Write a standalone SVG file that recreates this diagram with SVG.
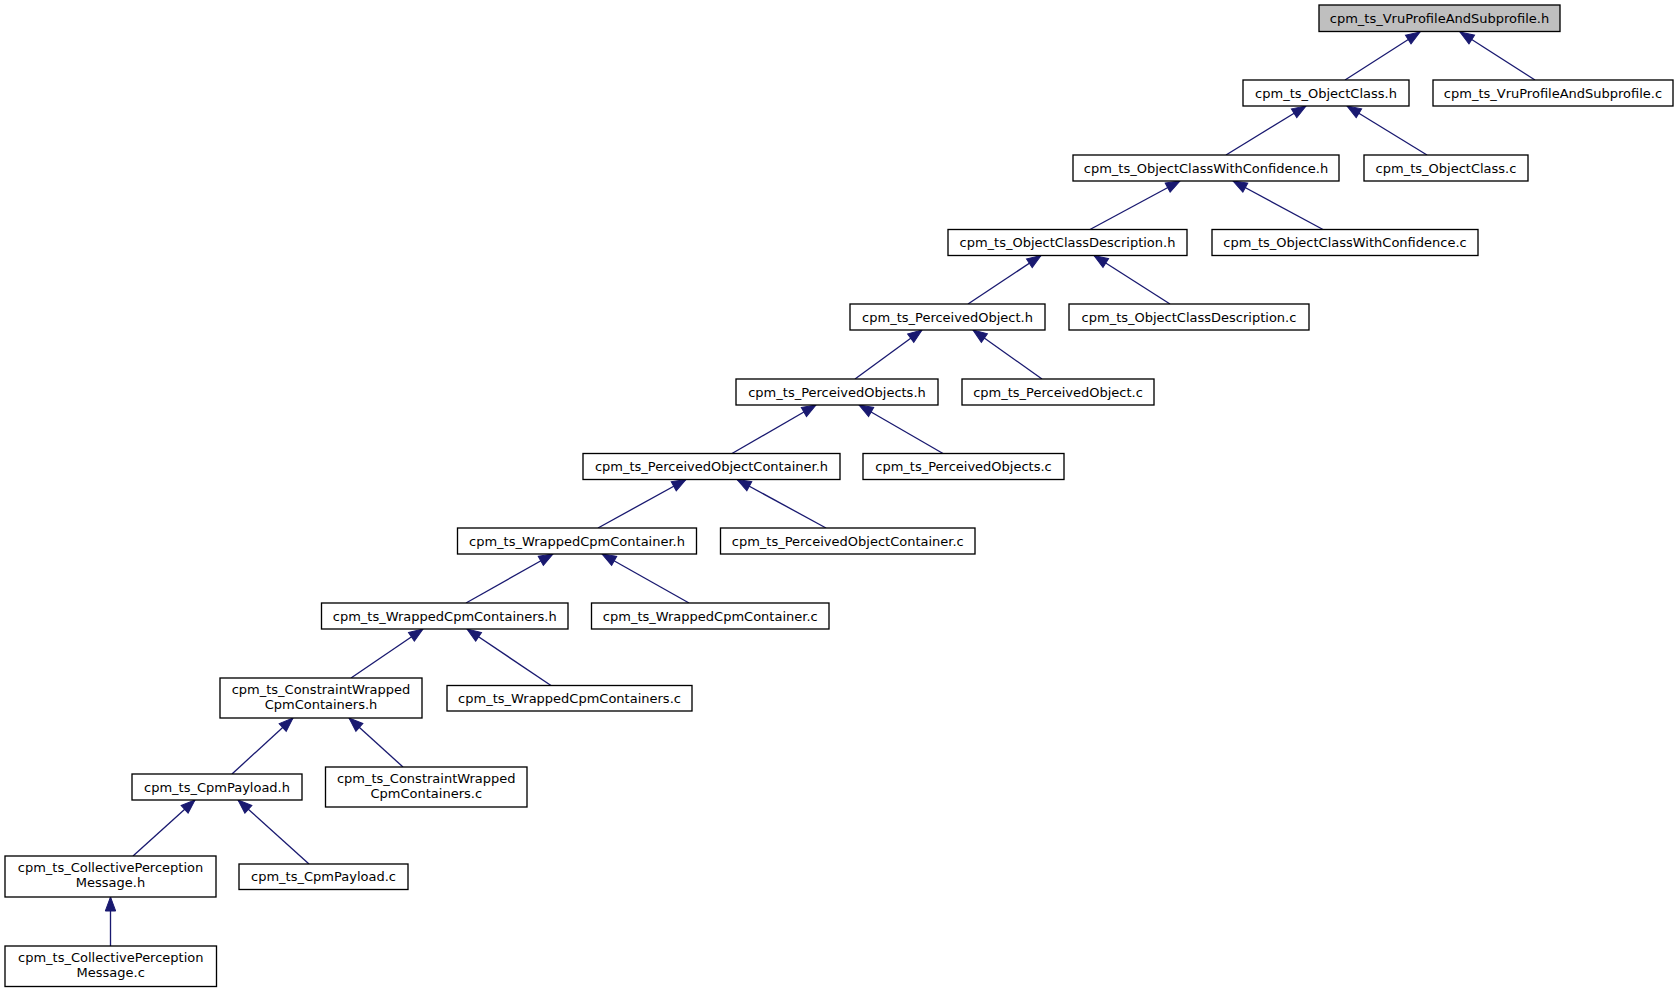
<svg xmlns="http://www.w3.org/2000/svg" width="1679" height="992" viewBox="0 0 1679 992">
<style>
.n rect{fill:#ffffff;stroke:#000000;stroke-width:1.33}
.root rect{fill:#bfbfbf}
text{font-family:"DejaVu Sans","Liberation Sans",sans-serif;font-size:13px;fill:#000000;text-anchor:middle}
#edges line{stroke:#191970;stroke-width:1.33;marker-end:url(#arr)}
</style>
<defs>
<marker id="arr" markerUnits="userSpaceOnUse" markerWidth="15" markerHeight="11" refX="14" refY="5.2" orient="auto" overflow="visible">
<path d="M0,0 L14,5.2 L0,10.4 z" fill="#191970" stroke="#191970" stroke-width="1"/>
</marker>
</defs>
<rect x="0" y="0" width="1679" height="992" fill="#ffffff"/>
<g id="edges">
<line x1="1345" y1="80" x2="1420" y2="32"/>
<line x1="1535" y1="80" x2="1460" y2="32"/>
<line x1="1226" y1="155" x2="1306" y2="106"/>
<line x1="1427" y1="155" x2="1347" y2="106"/>
<line x1="1090" y1="229.5" x2="1180" y2="181"/>
<line x1="1323" y1="229.5" x2="1233" y2="181"/>
<line x1="968" y1="304" x2="1041" y2="255.5"/>
<line x1="1170" y1="304" x2="1094" y2="255.5"/>
<line x1="855" y1="379" x2="922" y2="330"/>
<line x1="1042" y1="379" x2="973" y2="330"/>
<line x1="732" y1="453.5" x2="816" y2="405"/>
<line x1="943" y1="453.5" x2="859" y2="405"/>
<line x1="598" y1="528" x2="686" y2="479.5"/>
<line x1="826" y1="528" x2="737" y2="479.5"/>
<line x1="466" y1="603" x2="553" y2="554"/>
<line x1="689" y1="603" x2="602" y2="554"/>
<line x1="351" y1="678" x2="423" y2="629"/>
<line x1="551" y1="685.5" x2="467" y2="629"/>
<line x1="232" y1="774" x2="293" y2="718"/>
<line x1="403" y1="767" x2="349" y2="718"/>
<line x1="133" y1="856" x2="195" y2="800"/>
<line x1="309" y1="864" x2="238" y2="800"/>
<line x1="110.5" y1="946" x2="110.5" y2="897"/>
</g>
<g id="n0" class="n root"><rect x="1319" y="5" width="241" height="26.5"/><text x="1439.5" y="23">cpm_ts_VruProfileAndSubprofile.h</text></g>
<g id="n1" class="n"><rect x="1243" y="80" width="166" height="26"/><text x="1326" y="97.5">cpm_ts_ObjectClass.h</text></g>
<g id="n2" class="n"><rect x="1433" y="80" width="240" height="26"/><text x="1553" y="97.5">cpm_ts_VruProfileAndSubprofile.c</text></g>
<g id="n3" class="n"><rect x="1073" y="155" width="266" height="26"/><text x="1206" y="172.5">cpm_ts_ObjectClassWithConfidence.h</text></g>
<g id="n4" class="n"><rect x="1364" y="155" width="164" height="26"/><text x="1446" y="172.5">cpm_ts_ObjectClass.c</text></g>
<g id="n5" class="n"><rect x="948" y="229.5" width="239" height="26"/><text x="1067.5" y="247">cpm_ts_ObjectClassDescription.h</text></g>
<g id="n6" class="n"><rect x="1212" y="229.5" width="266" height="26"/><text x="1345" y="247">cpm_ts_ObjectClassWithConfidence.c</text></g>
<g id="n7" class="n"><rect x="850" y="304" width="195" height="26"/><text x="947.5" y="321.5">cpm_ts_PerceivedObject.h</text></g>
<g id="n8" class="n"><rect x="1069" y="304" width="240" height="26"/><text x="1189" y="321.5">cpm_ts_ObjectClassDescription.c</text></g>
<g id="n9" class="n"><rect x="736" y="379" width="202" height="26"/><text x="837" y="396.5">cpm_ts_PerceivedObjects.h</text></g>
<g id="n10" class="n"><rect x="962" y="379" width="192" height="26"/><text x="1058" y="396.5">cpm_ts_PerceivedObject.c</text></g>
<g id="n11" class="n"><rect x="583" y="453.5" width="257" height="26"/><text x="711.5" y="471">cpm_ts_PerceivedObjectContainer.h</text></g>
<g id="n12" class="n"><rect x="863" y="453.5" width="201" height="26"/><text x="963.5" y="471">cpm_ts_PerceivedObjects.c</text></g>
<g id="n13" class="n"><rect x="457.5" y="528" width="239" height="26"/><text x="577" y="545.5">cpm_ts_WrappedCpmContainer.h</text></g>
<g id="n14" class="n"><rect x="720.5" y="528" width="254.5" height="26"/><text x="847.75" y="545.5">cpm_ts_PerceivedObjectContainer.c</text></g>
<g id="n15" class="n"><rect x="321.5" y="603" width="246.5" height="26"/><text x="444.75" y="620.5">cpm_ts_WrappedCpmContainers.h</text></g>
<g id="n16" class="n"><rect x="591.5" y="603" width="237.5" height="26"/><text x="710.25" y="620.5">cpm_ts_WrappedCpmContainer.c</text></g>
<g id="n17" class="n"><rect x="220" y="678" width="202" height="40"/><text x="321" y="694">cpm_ts_ConstraintWrapped</text><text x="321" y="708.7">CpmContainers.h</text></g>
<g id="n18" class="n"><rect x="447" y="685.5" width="245" height="25.5"/><text x="569.5" y="702.7">cpm_ts_WrappedCpmContainers.c</text></g>
<g id="n19" class="n"><rect x="132" y="774" width="170" height="26"/><text x="217" y="791.5">cpm_ts_CpmPayload.h</text></g>
<g id="n20" class="n"><rect x="325.5" y="767" width="201.5" height="40"/><text x="426.25" y="783">cpm_ts_ConstraintWrapped</text><text x="426.25" y="797.7">CpmContainers.c</text></g>
<g id="n21" class="n"><rect x="5" y="856" width="211" height="41"/><text x="110.5" y="872.3">cpm_ts_CollectivePerception</text><text x="110.5" y="887">Message.h</text></g>
<g id="n22" class="n"><rect x="239" y="864" width="169" height="25.5"/><text x="323.5" y="881.2">cpm_ts_CpmPayload.c</text></g>
<g id="n23" class="n"><rect x="5" y="946" width="211.5" height="40.5"/><text x="110.75" y="962.3">cpm_ts_CollectivePerception</text><text x="110.75" y="977">Message.c</text></g>
</svg>
